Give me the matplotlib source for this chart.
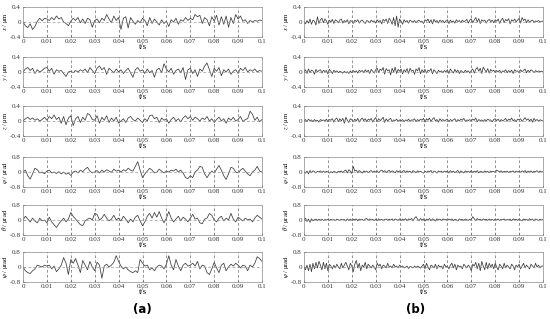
import numpy as np
import matplotlib.pyplot as plt

# time axis
t_a = np.linspace(0, 0.1, 101)
t_b = np.linspace(0, 0.1, 161)

x_ticks = [0, 0.01, 0.02, 0.03, 0.04, 0.05, 0.06, 0.07, 0.08, 0.09, 0.1]
x_ticklabels = ['0', '0.01', '0.02', '0.03', '0.04', '0.05', '0.06', '0.07', '0.08', '0.09', '0.1']

labels = [r'$x$ / μm', r'$y$ / μm', r'$z$ / μm',
          r'$\varphi$ / μrad', r'$\theta$ / μrad', r'$\psi$ / μrad']
limits = [0.4, 0.4, 0.4, 0.8, 0.8, 0.8]

# (a) column
x_a = [0.00, -0.10, -0.15, -0.05, -0.20, -0.12, 0.02, 0.10, 0.03, 0.10, 0.08,
       0.04, 0.12, 0.06, 0.16, 0.08, 0.12, 0.00, -0.04, -0.10, 0.02,
       0.10, 0.04, 0.12, -0.02, 0.08, -0.04, 0.10, 0.06, -0.14, 0.04,
       0.08, -0.02, 0.10, 0.04, 0.20, 0.08, -0.02, 0.16, 0.04, 0.12,
       -0.20, 0.10, 0.14, -0.16, 0.12, 0.02, -0.06, 0.04, -0.02, 0.10,
       0.04, -0.10, 0.12, -0.04, 0.08, 0.00, -0.08, 0.06, -0.04, 0.02,
       -0.12, 0.06, 0.00, 0.10, -0.06, 0.06, 0.02, 0.12, 0.04, 0.10,
       0.06, 0.20, 0.14, 0.18, -0.04, 0.12, 0.06, -0.10, 0.14, 0.02,
       0.18, -0.08, 0.14, -0.06, 0.16, -0.14, 0.12, -0.04, 0.20, 0.08,
       0.16, 0.02, 0.06, -0.04, 0.04, 0.00, 0.04, 0.02, 0.05, 0.04]
y_a = [0.00, 0.08, 0.12, 0.04, 0.10, -0.04, 0.06, 0.00, 0.04, 0.10, 0.12,
       0.02, 0.10, -0.06, 0.06, 0.02, 0.04, -0.04, -0.12, 0.00, 0.02,
       -0.02, 0.04, 0.00, 0.06, 0.02, 0.08, -0.02, 0.12, 0.04, -0.04,
       0.10, 0.16, 0.06, 0.12, -0.06, 0.10, 0.04, -0.02, 0.08, 0.00,
       0.06, -0.04, 0.04, 0.10, -0.02, -0.14, 0.06, 0.12, 0.02, 0.06,
       -0.04, 0.08, -0.02, 0.04, -0.14, 0.06, 0.10, -0.02, 0.22, 0.08,
       0.00, 0.10, -0.06, 0.04, 0.08, -0.02, 0.12, -0.20, 0.06, 0.10,
       -0.04, 0.06, -0.12, 0.08, 0.02, 0.16, 0.24, 0.06, -0.12, 0.10,
       0.02, 0.12, -0.10, 0.06, 0.00, 0.08, -0.06, 0.02, 0.06, -0.04,
       0.10, 0.04, 0.12, 0.00, 0.06, 0.02, 0.08, 0.00, 0.04, 0.02]
z_a = [0.00, 0.06, 0.10, 0.04, 0.08, 0.02, 0.06, 0.00, 0.04, 0.10, 0.02,
       0.12, 0.06, 0.16, 0.04, 0.10, -0.06, 0.12, -0.10, 0.08, 0.14,
       -0.12, 0.06, 0.12, -0.04, 0.10, 0.02, 0.20, 0.16, 0.04, 0.02,
       0.14, -0.06, 0.10, 0.02, 0.14, -0.04, 0.08, 0.00, 0.10, -0.06,
       0.00, 0.06, -0.04, 0.08, 0.12, 0.04, 0.00, 0.08, 0.02, -0.04,
       0.06, 0.00, 0.14, 0.16, 0.06, 0.10, -0.04, 0.08, 0.02, 0.06,
       -0.06, 0.04, 0.10, 0.00, 0.06, -0.02, 0.08, 0.14, 0.06, 0.12,
       0.02, 0.10, 0.06, 0.00, 0.08, 0.04, 0.12, 0.00, 0.06, -0.04,
       0.04, 0.10, 0.00, 0.06, -0.06, 0.08, 0.02, 0.10, 0.00, 0.04,
       0.12, -0.02, 0.04, 0.06, 0.26, 0.18, 0.02, 0.10, -0.02, 0.04]
phi_a = [0.00, 0.10, -0.20, -0.38, -0.10, 0.20, 0.12, -0.05, 0.00, -0.10, 0.05,
         0.10, -0.05, 0.00, -0.08, 0.02, -0.10, 0.00, -0.12, -0.05, -0.18,
         0.00, 0.05, -0.05, 0.10, 0.02, 0.15, 0.25, 0.05, -0.05, 0.00,
         0.08, -0.05, 0.10, 0.00, 0.12, 0.05, -0.02, 0.15, 0.05, 0.10,
         0.00, 0.12, 0.05, 0.20, 0.10, 0.05, 0.30, 0.55, 0.10, -0.30,
         -0.10, 0.05, 0.20, 0.10, -0.05, 0.00, 0.15, 0.05, -0.05, 0.05,
         0.00, 0.10, 0.05, 0.15, 0.00, 0.10, -0.05, -0.30, -0.35, -0.20,
         -0.30, 0.00, 0.10, 0.30, 0.25, -0.10, -0.30, -0.10, 0.05, -0.05,
         0.15, 0.35, 0.10, -0.20, -0.40, -0.10, 0.25, 0.20, 0.00, -0.05,
         0.10, 0.20, 0.05, -0.10, -0.20, 0.00, 0.10, 0.30, 0.05, 0.00]
theta_a = [0.00, 0.20, 0.05, -0.10, 0.10, -0.05, -0.15, 0.10, -0.05, 0.00, -0.15,
           0.15, -0.10, -0.25, -0.40, -0.20, -0.05, 0.10, -0.10, 0.05, 0.40,
           0.20, 0.05, -0.10, -0.25, -0.30, -0.05, 0.05, 0.10, 0.00, 0.35,
           0.30, 0.00, 0.10, 0.30, 0.10, -0.05, 0.05, 0.25, 0.00, 0.10,
           -0.05, 0.20, 0.05, -0.15, 0.05, -0.10, 0.15, 0.25, -0.05, -0.30,
           -0.10, 0.20, 0.35, 0.10, 0.40, 0.15, 0.45, 0.10, -0.15, 0.10,
           0.45, 0.10, -0.10, 0.05, 0.20, -0.05, 0.15, 0.05, -0.10, 0.10,
           0.30, 0.05, 0.10, -0.15, -0.20, 0.05, 0.10, 0.35, 0.25, 0.00,
           -0.10, 0.10, 0.20, -0.05, 0.10, 0.00, 0.35, 0.05, -0.10, 0.15,
           0.05, -0.05, 0.10, 0.00, 0.05, -0.10, 0.10, 0.25, 0.15, 0.05]
psi_a = [0.00, -0.20, -0.30, -0.35, -0.20, -0.10, 0.10, 0.05, 0.00, 0.10, 0.05,
         0.10, -0.10, 0.05, -0.25, -0.10, 0.10, 0.50, 0.20, -0.40, 0.40,
         0.20, 0.45, 0.10, -0.30, 0.35, 0.10, -0.15, 0.30, 0.00, -0.20,
         0.25, 0.10, -0.60, 0.05, 0.15, 0.00, 0.10, 0.25, 0.60, 0.30,
         0.05, -0.10, 0.00, -0.15, -0.25, -0.30, -0.20, -0.30, 0.40, 0.20,
         0.05, 0.10, -0.15, -0.05, -0.20, 0.00, 0.10, 0.05, -0.10, 0.15,
         0.60, 0.10, -0.15, 0.40, 0.05, -0.20, 0.10, 0.20, 0.05, 0.10,
         0.20, 0.05, 0.30, -0.10, 0.10, 0.05, -0.30, -0.40, -0.10, 0.25,
         -0.05, -0.30, 0.10, 0.20, -0.20, 0.00, 0.15, 0.05, 0.20, 0.10,
         -0.05, 0.10, 0.05, -0.20, 0.10, 0.00, 0.20, 0.55, 0.45, 0.30]

# (b) column
x_b = [0.00, -0.05, 0.04, -0.03, 0.08, -0.06, 0.05, 0.02, -0.08, 0.14, -0.04, 0.06, 0.10, -0.02, 0.08, 0.03,
       -0.06, 0.05, 0.00, 0.07, -0.04, 0.06, 0.03, -0.02, 0.05, 0.08, -0.03, 0.04, 0.00, 0.06, -0.05, 0.04,
       0.02, -0.04, 0.05, 0.01, 0.06, -0.03, 0.03, 0.05, 0.00, -0.04, 0.04, 0.02, -0.02, 0.05, 0.01, 0.03,
       -0.03, 0.06, 0.00, 0.04, -0.05, 0.07, 0.02, 0.08, -0.04, 0.10, 0.04, -0.06, 0.12, -0.10, 0.16, -0.14,
       0.08, 0.02, -0.06, 0.06, 0.00, 0.04, -0.03, 0.05, 0.02, 0.00, 0.04, -0.02, 0.03, 0.05, 0.00, 0.02,
       -0.04, 0.06, 0.02, 0.08, -0.02, 0.06, -0.05, 0.07, 0.00, 0.04, -0.03, 0.05, 0.01, 0.04, -0.02, 0.03,
       0.06, -0.04, 0.05, 0.00, 0.03, -0.03, 0.06, 0.01, 0.04, -0.02, 0.05, 0.00, 0.03, 0.07, -0.03, 0.05,
       0.08, -0.02, 0.06, 0.12, 0.00, 0.09, -0.04, 0.06, 0.02, 0.05, -0.03, 0.04, 0.07, 0.01, 0.05, -0.02,
       0.06, 0.02, 0.08, -0.04, 0.05, 0.10, -0.02, 0.07, 0.03, 0.09, -0.05, 0.06, 0.02, 0.08, 0.00, 0.05,
       0.10, -0.03, 0.12, 0.04, 0.08, -0.02, 0.06, 0.00, 0.03, 0.05, -0.01, 0.03, 0.01, 0.04, 0.00, 0.02,
       0.02]
y_b = [0.00, 0.06, -0.04, 0.08, -0.02, 0.05, 0.03, -0.06, 0.07, 0.00, 0.04, 0.06, -0.03, 0.05, 0.01, 0.04,
       -0.05, 0.07, 0.02, -0.04, 0.05, 0.00, 0.03, -0.02, 0.02, 0.00, -0.03, 0.02, -0.02, 0.01, -0.04, 0.03,
       -0.02, 0.04, 0.00, 0.03, -0.03, 0.05, 0.01, 0.04, -0.02, 0.06, 0.00, 0.05, -0.04, 0.07, 0.02, -0.03,
       0.06, 0.10, -0.02, 0.08, 0.04, 0.12, -0.06, 0.09, 0.03, 0.06, -0.08, 0.10, 0.00, 0.13, -0.04, 0.07,
       0.02, 0.08, -0.05, 0.06, 0.00, 0.09, -0.04, 0.10, 0.02, 0.05, -0.06, 0.08, 0.03, 0.12, -0.05, 0.06,
       0.00, 0.07, -0.03, 0.05, 0.02, 0.09, -0.05, 0.06, 0.01, -0.04, 0.05, 0.00, 0.03, -0.02, 0.04, 0.00,
       0.06, -0.04, 0.08, 0.02, -0.03, 0.07, 0.00, 0.05, -0.04, 0.04, 0.01, -0.02, 0.05, 0.00, 0.03, -0.03,
       0.04, 0.08, -0.03, 0.07, 0.12, 0.02, 0.10, -0.04, 0.13, 0.06, 0.00, 0.09, -0.03, 0.07, 0.02, 0.05,
       -0.02, 0.04, 0.00, 0.05, -0.03, 0.03, 0.01, 0.06, -0.02, 0.04, 0.00, 0.05, -0.04, 0.06, 0.02, 0.03,
       -0.03, 0.06, 0.01, 0.04, 0.08, -0.02, 0.05, 0.00, 0.06, 0.03, -0.02, 0.04, 0.00, 0.03, 0.01, 0.02,
       0.00]
z_b = [0.00, 0.04, -0.02, 0.05, 0.01, 0.03, -0.02, 0.04, 0.00, 0.02, -0.03, 0.04, 0.01, 0.03, 0.00, 0.05,
       -0.02, 0.04, 0.02, 0.06, -0.03, 0.05, 0.08, -0.02, 0.06, 0.00, 0.07, -0.06, 0.10, 0.02, -0.04, 0.06,
       0.03, -0.02, 0.05, 0.00, 0.07, -0.03, 0.04, 0.08, 0.01, 0.06, -0.02, 0.05, 0.02, 0.07, -0.03, 0.04,
       0.09, -0.02, 0.06, 0.01, 0.05, 0.10, -0.04, 0.06, 0.00, 0.04, 0.07, -0.02, 0.03, 0.01, 0.05, -0.01,
       0.03, 0.00, 0.04, -0.02, 0.03, 0.01, 0.05, -0.01, 0.03, 0.02, 0.06, -0.02, 0.04, 0.00, 0.05, 0.02,
       0.07, -0.03, 0.06, 0.02, 0.08, -0.02, 0.05, 0.09, 0.00, 0.04, -0.03, 0.06, 0.01, 0.04, 0.00, 0.03,
       0.05, -0.02, 0.04, 0.01, 0.03, 0.06, -0.02, 0.04, 0.00, 0.05, 0.02, 0.07, -0.01, 0.03, 0.01, 0.04,
       0.00, 0.05, 0.02, 0.08, -0.02, 0.04, 0.01, 0.03, -0.01, 0.04, 0.00, 0.05, 0.02, 0.03, -0.02, 0.04,
       0.06, 0.01, 0.05, -0.02, 0.04, 0.00, 0.03, 0.07, -0.01, 0.05, 0.02, 0.08, 0.00, 0.04, -0.02, 0.05,
       0.03, 0.06, -0.01, 0.04, 0.09, 0.02, 0.06, 0.00, 0.05, -0.03, 0.07, 0.01, 0.04, 0.00, 0.03, 0.02,
       0.00]
phi_b = [0.00, -0.06, 0.05, -0.10, 0.08, -0.04, 0.06, 0.02, -0.05, 0.04, 0.00, 0.06, -0.03, 0.05, -0.02, 0.03,
         0.00, -0.06, 0.02, -0.04, 0.03, 0.00, -0.05, 0.04, 0.01, 0.05, -0.03, 0.06, 0.10, -0.05, 0.12, 0.05,
         -0.08, 0.30, 0.05, 0.10, -0.04, 0.08, 0.02, -0.06, 0.06, 0.00, 0.05, -0.04, 0.04, 0.08, -0.02, 0.05,
         0.00, 0.06, -0.04, 0.05, 0.10, 0.02, 0.07, -0.03, 0.05, 0.09, -0.02, 0.06, 0.03, -0.05, 0.07, 0.01,
         0.06, -0.04, 0.04, 0.08, -0.03, 0.06, 0.00, 0.05, -0.05, 0.07, 0.02, -0.04, 0.06, 0.00, 0.04, -0.02,
         -0.06, 0.04, -0.02, 0.06, 0.00, 0.08, -0.05, 0.05, 0.02, -0.06, 0.06, 0.00, 0.04, -0.03, 0.05, 0.01,
         0.06, -0.05, 0.07, 0.00, 0.05, -0.04, 0.03, 0.08, -0.06, 0.06, 0.01, -0.05, 0.06, 0.00, 0.04, -0.02,
         0.08, -0.04, 0.05, 0.00, 0.07, -0.05, 0.04, 0.02, -0.03, 0.06, 0.00, 0.04, -0.04, 0.05, 0.01, 0.03,
         -0.03, 0.10, 0.05, 0.02, 0.06, -0.02, 0.04, 0.00, 0.05, -0.03, 0.03, 0.01, 0.06, -0.04, 0.05, 0.00,
         0.04, -0.02, 0.06, 0.01, 0.08, -0.04, 0.05, 0.00, 0.06, -0.03, 0.04, 0.02, 0.07, -0.02, 0.05, 0.00,
         0.02]
theta_b = [0.00, 0.10, -0.08, 0.05, -0.12, 0.06, -0.04, 0.02, 0.05, -0.03, 0.04, 0.00, 0.03, -0.02, 0.02, 0.00,
           0.03, -0.02, 0.04, 0.00, 0.02, -0.03, 0.05, 0.01, -0.02, 0.04, 0.00, 0.03, -0.05, 0.06, -0.03, 0.05,
           -0.02, 0.04, 0.01, 0.06, -0.04, 0.05, 0.00, 0.03, -0.03, 0.05, 0.08, -0.02, 0.06, 0.00, 0.04, -0.04,
           0.05, -0.03, 0.06, 0.00, 0.04, -0.02, 0.03, 0.05, -0.01, 0.04, 0.00, 0.06, -0.03, 0.05, 0.02, -0.02,
           0.06, -0.03, 0.05, 0.00, 0.07, -0.04, 0.06, 0.02, 0.08, -0.05, 0.10, 0.18, 0.05, -0.04, 0.08, 0.00,
           0.06, -0.06, 0.05, 0.00, 0.08, -0.04, 0.06, 0.02, -0.05, 0.07, 0.00, 0.05, -0.03, 0.06, 0.01, 0.04,
           -0.03, 0.05, 0.00, 0.06, -0.04, 0.04, 0.01, -0.05, 0.06, 0.00, 0.04, -0.03, 0.05, 0.02, -0.02, 0.04,
           0.02, 0.18, 0.06, -0.04, 0.08, 0.00, 0.05, -0.03, 0.06, 0.01, 0.04, -0.02, 0.05, 0.00, 0.03, -0.02,
           0.04, 0.00, 0.05, -0.03, 0.04, 0.01, 0.06, -0.02, 0.03, 0.00, 0.05, -0.04, 0.06, 0.01, 0.04, -0.02,
           0.05, 0.00, -0.04, 0.06, 0.01, 0.04, -0.03, 0.07, 0.00, 0.05, -0.05, 0.06, 0.02, -0.03, 0.05, 0.00,
           0.02]
psi_b = [0.00, -0.15, 0.10, -0.20, 0.15, -0.25, 0.20, -0.10, 0.25, -0.05, 0.30, 0.10, -0.15, 0.25, -0.10, 0.20,
         -0.20, 0.15, 0.05, -0.10, 0.10, -0.05, 0.15, 0.00, -0.10, 0.20, -0.05, 0.10, 0.25, 0.05, -0.15, 0.20,
         0.05, -0.25, 0.15, 0.35, -0.05, 0.20, -0.20, 0.10, 0.00, 0.25, -0.10, 0.15, 0.05, -0.05, 0.10, 0.00,
         -0.15, 0.20, 0.05, 0.15, -0.10, 0.10, 0.05, -0.05, 0.20, 0.00, 0.05, -0.05, 0.15, 0.00, 0.05, -0.05,
         0.10, 0.00, 0.05, -0.05, 0.00, 0.05, -0.08, 0.03, 0.00, -0.05, 0.05, -0.03, 0.05, 0.00, -0.06, 0.05,
         0.15, -0.10, 0.20, 0.00, -0.15, 0.10, 0.05, -0.05, 0.15, -0.10, 0.10, 0.00, 0.05, -0.10, 0.15, 0.00,
         0.05, -0.10, 0.10, 0.20, -0.05, 0.15, -0.15, 0.10, 0.00, 0.05, -0.10, 0.15, 0.05, -0.05, 0.10, 0.00,
         -0.20, 0.15, 0.05, 0.25, -0.10, 0.20, -0.20, 0.30, 0.05, -0.15, 0.25, -0.10, 0.20, 0.00, 0.15, -0.10,
         0.20, 0.00, -0.15, 0.15, 0.05, -0.10, 0.20, -0.05, 0.10, 0.00, -0.10, 0.15, 0.05, -0.15, 0.10, 0.00,
         0.15, -0.10, 0.05, 0.20, -0.05, 0.10, 0.00, -0.10, 0.15, 0.05, -0.05, 0.20, 0.00, 0.10, -0.05, 0.05,
         0.05]

series_a = [x_a, y_a, z_a, phi_a, theta_a, psi_a]
series_b = [x_b, y_b, z_b, phi_b, theta_b, psi_b]

plt.rcParams['font.family'] = ['Liberation Serif', 'DejaVu Serif']
plt.rcParams['mathtext.fontset'] = 'stix'

fig = plt.figure(figsize=(5.5, 3.19), dpi=100)

tops = [7, 57, 106, 157, 205, 252]
col_left = [23, 304]
col_width = [239, 239]
ax_h = 30


def draw_panel(ax, t, vals, lim, ylabel):
    ax.plot(t, vals, color='#3a3a3a', lw=0.55)
    ax.set_xlim(0, 0.1)
    ax.set_ylim(-lim, lim)
    ax.set_xticks(x_ticks)
    ax.set_xticklabels(x_ticklabels)
    ax.set_yticks([-lim, 0, lim])
    ax.set_yticklabels(['-%g' % lim, '0', '%g' % lim])
    for xt in x_ticks[1:-1]:
        ax.axvline(xt, color='#666666', lw=0.5, ls=(0, (4, 3)))
    ax.axhline(0, color='#999999', lw=0.5, ls=(0, (4, 3)))
    ax.tick_params(labelsize=5, length=1.5, width=0.4, direction='in', pad=1.5,
                   colors='#333333')
    for s in ax.spines.values():
        s.set_linewidth(0.5)
        s.set_color('#888888')
    ax.set_xlabel('t/s', fontsize=6, labelpad=-0.5)
    ax.set_ylabel(ylabel, fontsize=4.8, labelpad=0)


for c, series, t in [(0, series_a, t_a), (1, series_b, t_b)]:
    for i in range(6):
        bottom = 1 - (tops[i] + ax_h) / 319
        ax = fig.add_axes([col_left[c] / 550, bottom, col_width[c] / 550, ax_h / 319])
        draw_panel(ax, t, series[i], limits[i], labels[i])

fig.text(142 / 550, 1 - 309 / 319, '(a)', ha='center', va='center',
         fontsize=8.5, fontweight='bold', family=['DejaVu Sans'])
fig.text(416 / 550, 1 - 309 / 319, '(b)', ha='center', va='center',
         fontsize=8.5, fontweight='bold', family=['DejaVu Sans'])

fig.savefig('out.png', dpi=100)
